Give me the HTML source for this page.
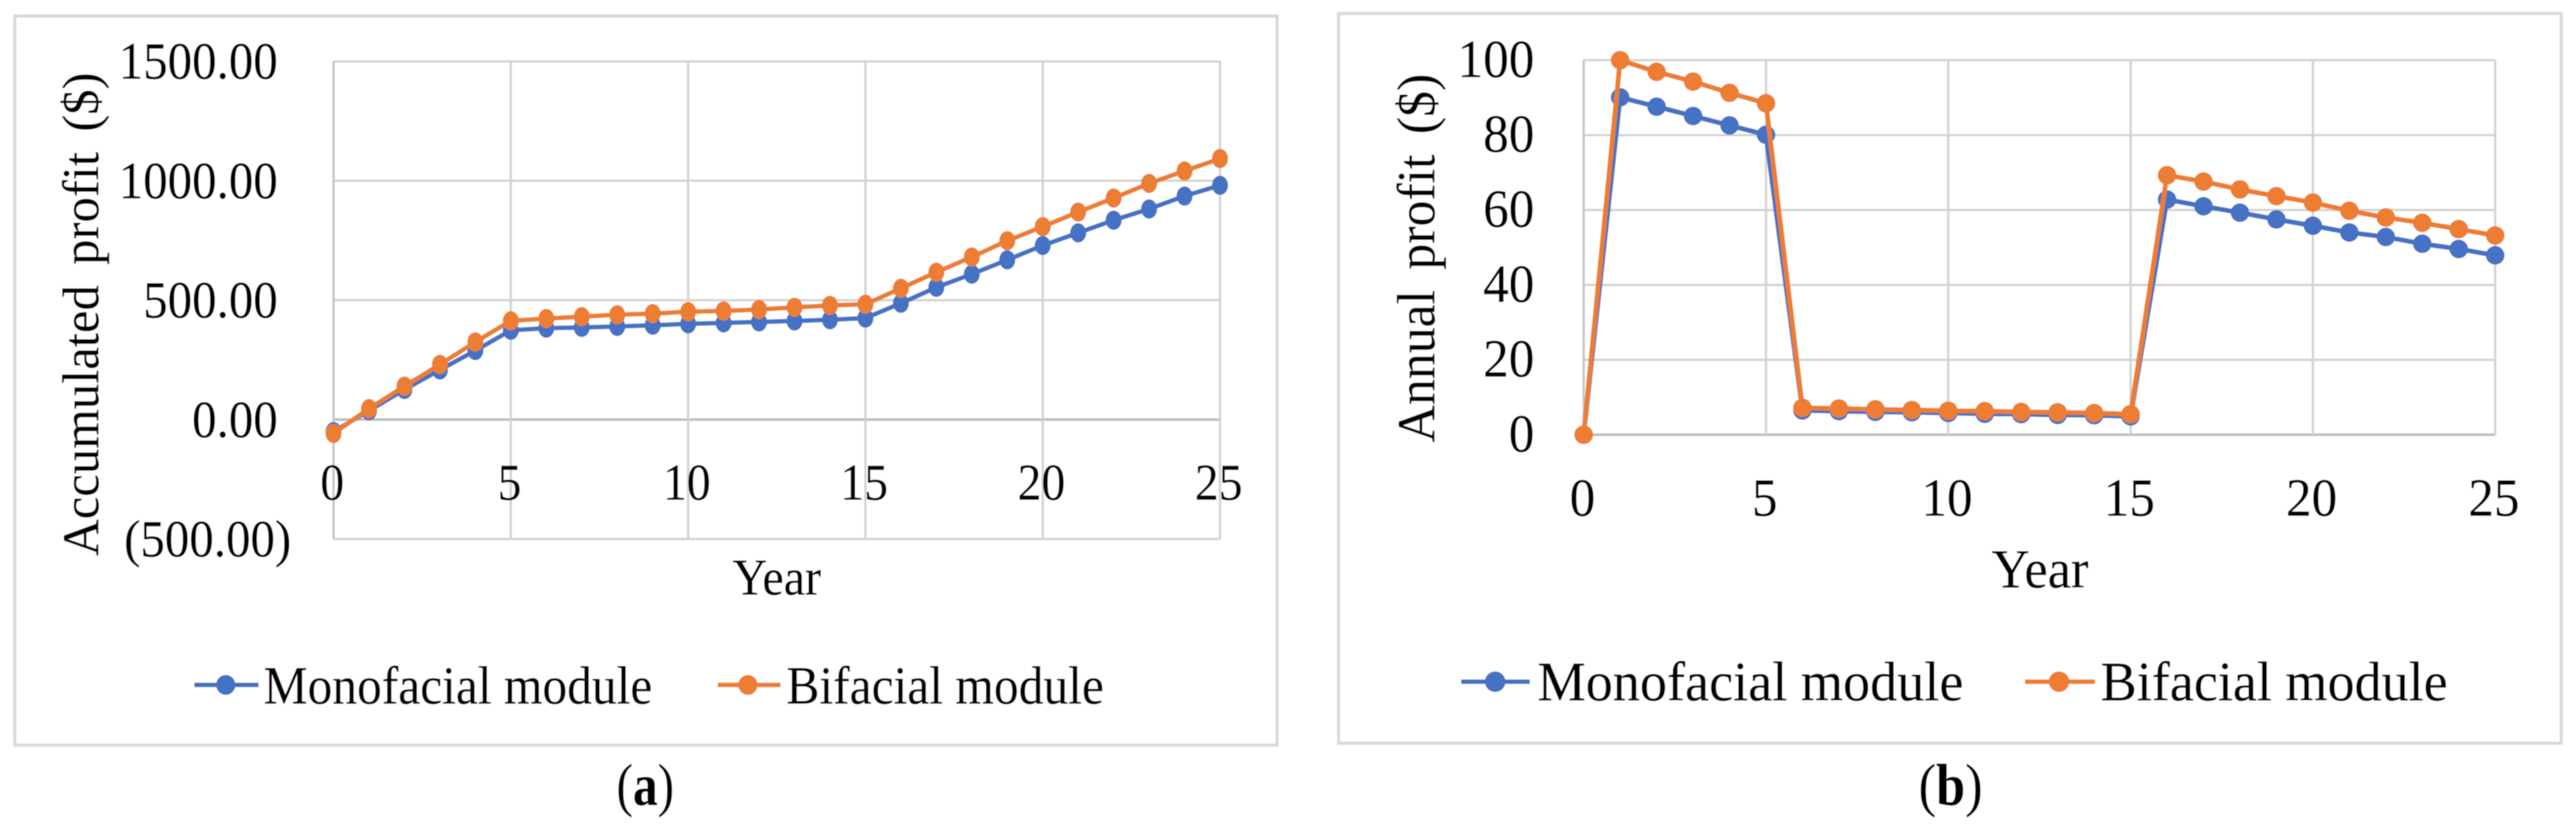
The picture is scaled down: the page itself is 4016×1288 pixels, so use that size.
<!DOCTYPE html>
<html lang="en">
<head>
<meta charset="utf-8">
<title>Accumulated and annual profit charts</title>
<style>
html,body{margin:0;padding:0;background:#fff;width:4016px;height:1288px;overflow:hidden}
svg{display:block}
text{font-family:"Liberation Serif","Times New Roman",serif;fill:#000;stroke:#000;stroke-width:0.5px}
</style>
</head>
<body>
<svg id="fig" xmlns="http://www.w3.org/2000/svg" width="4016" height="1288" viewBox="0 0 4016 1288">
  <defs>
    <filter id="soften" x="0" y="0" width="100%" height="100%" filterUnits="objectBoundingBox">
      <feGaussianBlur stdDeviation="0.9"/>
    </filter>
  </defs>
  <rect x="0" y="0" width="4016" height="1288" fill="#fff"/>
  <g filter="url(#soften)">
  <rect x="0" y="0" width="4016" height="1288" fill="#fff"/>
  <rect x="23" y="25" width="1968" height="1137" fill="#fff" stroke="#d9d9d9" stroke-width="5"/>
  <rect x="2087" y="21" width="1906" height="1138" fill="#fff" stroke="#d9d9d9" stroke-width="5"/>
  <g id="chart-a"></g>
  <g id="chart-b"></g>

  <g>
    <g>
      <line x1="303" x2="403" y1="1068" y2="1068" stroke="#4472C4" stroke-width="7"/>
      <ellipse cx="352" cy="1068" rx="15" ry="15.5" fill="#4472C4"/>
      <text x="411" y="1097" font-size="84" textLength="606" lengthAdjust="spacingAndGlyphs">Monofacial module</text>
    </g>
    <g>
      <line x1="1119" x2="1217" y1="1068" y2="1068" stroke="#ED7D31" stroke-width="7"/>
      <ellipse cx="1166" cy="1068" rx="15" ry="15.5" fill="#ED7D31"/>
      <text x="1226" y="1097" font-size="84" textLength="495" lengthAdjust="spacingAndGlyphs">Bifacial module</text>
    </g>
  </g>

  <g>
    <g>
      <line x1="2278" x2="2385" y1="1063" y2="1063" stroke="#4472C4" stroke-width="7"/>
      <ellipse cx="2331" cy="1063" rx="16" ry="16" fill="#4472C4"/>
      <text x="2397" y="1092" font-size="87" textLength="664" lengthAdjust="spacingAndGlyphs">Monofacial module</text>
    </g>
    <g>
      <line x1="3157" x2="3266" y1="1063" y2="1063" stroke="#ED7D31" stroke-width="7"/>
      <ellipse cx="3210" cy="1063" rx="16" ry="16" fill="#ED7D31"/>
      <text x="3275" y="1092" font-size="87" textLength="541" lengthAdjust="spacingAndGlyphs">Bifacial module</text>
    </g>
  </g>

  <text x="961" y="1255" font-size="92" textLength="90" lengthAdjust="spacingAndGlyphs">(<tspan font-weight="bold">a</tspan>)</text>
  <text x="2991" y="1255" font-size="92" textLength="100" lengthAdjust="spacingAndGlyphs">(<tspan font-weight="bold">b</tspan>)</text>
  </g>
</svg>

<script>
const years = [0,1,2,3,4,5,6,7,8,9,10,11,12,13,14,15,16,17,18,19,20,21,22,23,24,25];
const xTickValues = [0,5,10,15,20,25];

const accumMonofacial = [-50,37,126,208,289,374,383,386,390,395,401,405,409,413,418,425,487,554,609,669,729,782,835,882,936,981];
const accumBifacial = [-58,46,140,231,325,414,423,431,439,444,452,455,461,470,478,483,550,617,681,749,808,869,928,989,1041,1093];
const accumTickValues = [-500,0,500,1000,1500];
const accumTickLabels = ["(500.00)","0.00","500.00","1000.00","1500.00"];

const annualMonofacial = [0,90.1,87.6,85.1,82.6,80.1,6.5,6.3,6.1,6.0,5.8,5.6,5.5,5.3,5.2,4.9,62.8,61,59.3,57.5,55.8,54,52.8,51,49.6,47.9];
const annualBifacial = [0,100,96.9,94.3,91.3,88.5,7.2,7.0,6.8,6.6,6.4,6.3,6.1,6.0,5.8,5.5,69.3,67.6,65.5,63.7,62,59.8,58,56.6,54.9,53.2];
const annualTickValues = [0,20,40,60,80,100];
const annualTickLabels = ["0","20","40","60","80","100"];

const SVG_NS = "http://www.w3.org/2000/svg";

function make(parent, tag, name, attrs, content) {
  const el = document.createElementNS(SVG_NS, tag);
  
  
  for (const k in attrs) el.setAttribute(k, attrs[k]);
  if (content !== undefined) el.textContent = content;
  parent.appendChild(el);
  return el;
}

function drawChart(c) {
  const root = document.getElementById(c.id);
  const xScale = v => c.x0 + (v - c.xMin) * (c.x1 - c.x0) / (c.xMax - c.xMin);
  const yScale = v => c.yZero - v * c.yPerUnit;
  const top = yScale(c.yTicks[c.yTicks.length - 1]);
  const bottom = yScale(c.yTicks[0]);

  const grid = make(root, 'g', 'gridlines', {});
  c.yTicks.forEach(t => {
    const isZero = t === 0;
    make(grid, 'line', 'horizontal-gridline-' + t, {
      x1: c.x0, x2: c.x1, y1: yScale(t), y2: yScale(t),
      stroke: isZero ? '#bdbdbd' : '#d2d2d2', 'stroke-width': isZero ? 4 : 3.5
    });
  });
  c.xTicks.forEach(t => {
    make(grid, 'line', 'vertical-gridline-' + t, {
      x1: xScale(t), x2: xScale(t), y1: top, y2: bottom,
      stroke: t === 0 ? '#c4c4c4' : '#d2d2d2', 'stroke-width': 3.5
    });
  });

  const yAxis = make(root, 'g', 'y-axis-labels', {});
  c.yTicks.forEach((t, i) => {
    const label = c.yLabels[i];
    const hang = label.charAt(0) === '(' ? c.parenHang : 0;
    make(yAxis, 'text', 'y-tick-label', {
      transform: 'translate(' + (c.yLabelX + hang) + ',' + (yScale(t) + c.yLabelDy) + ') scale(' + c.tickScaleX + ',1)',
      x: 0, y: 0, 'text-anchor': 'end', 'font-size': c.tickFont
    }, label);
  });

  const xAxis = make(root, 'g', 'x-axis-labels', {});
  c.xTicks.forEach(t => {
    make(xAxis, 'text', 'x-tick-label', {
      transform: 'translate(' + (xScale(t) - 2) + ',' + c.xLabelY + ') scale(' + c.tickScaleX + ',1)',
      x: 0, y: 0, 'text-anchor': 'middle', 'font-size': c.xTickFont
    }, String(t));
  });

  make(root, 'text', 'x-axis-title', {
    x: c.xTitleX, y: c.xTitleY, 'font-size': c.xTitleFont,
    textLength: c.xTitleLen, lengthAdjust: 'spacingAndGlyphs'
  }, 'Year');

  make(root, 'text', 'y-axis-title', {
    transform: 'translate(' + c.yTitleX + ',' + c.yTitleBottom + ') rotate(-90)',
    x: 0, y: 0, 'font-size': c.yTitleFont, 'word-spacing': 12,
    textLength: c.yTitleLen, lengthAdjust: 'spacingAndGlyphs'
  }, c.yTitle);

  c.series.forEach(s => {
    const g = make(root, 'g', 'series-' + s.name, {});
    const pts = c.categories.map((yr, i) => xScale(yr).toFixed(1) + ',' + yScale(s.values[i]).toFixed(1)).join(' ');
    make(g, 'polyline', 'line-' + s.name, {
      points: pts, fill: 'none', stroke: s.color,
      'stroke-width': c.lineWidth, 'stroke-linejoin': 'round'
    });
    c.categories.forEach((yr, i) => {
      make(g, 'ellipse', 'point-' + s.name + '-year-' + yr, {
        cx: xScale(yr), cy: yScale(s.values[i]), rx: c.rx, ry: c.ry, fill: s.color
      });
    });
  });
}

drawChart({
  id: 'chart-a', categories: years, xTicks: xTickValues, yTicks: accumTickValues, yLabels: accumTickLabels,
  xMin: 0, xMax: 25, x0: 520, x1: 1902, yZero: 654.3, yPerUnit: 0.3724,
  yLabelX: 433, yLabelDy: 27, parenHang: 21, tickFont: 82, tickScaleX: 0.93, xTickFont: 80, xLabelY: 779,
  xTitleX: 1142, xTitleY: 927, xTitleFont: 80, xTitleLen: 138,
  yTitle: 'Accumulated profit ($)', yTitleX: 153, yTitleBottom: 867, yTitleFont: 81, yTitleLen: 754,
  lineWidth: 7, rx: 12.5, ry: 15,
  series: [
    {name: 'monofacial', color: '#4472C4', values: accumMonofacial},
    {name: 'bifacial', color: '#ED7D31', values: accumBifacial}
  ]
});

drawChart({
  id: 'chart-b', categories: years, xTicks: xTickValues, yTicks: annualTickValues, yLabels: annualTickLabels,
  xMin: 0, xMax: 25, x0: 2469, x1: 3890, yZero: 677.9, yPerUnit: 5.84,
  yLabelX: 2392, yLabelDy: 26, parenHang: 0, tickFont: 84, tickScaleX: 0.95, xTickFont: 84, xLabelY: 804,
  xTitleX: 3105, xTitleY: 916, xTitleFont: 86, xTitleLen: 151,
  yTitle: 'Annual profit ($)', yTitleX: 2236, yTitleBottom: 690, yTitleFont: 84, yTitleLen: 575,
  lineWidth: 7.5, rx: 14.5, ry: 14.5,
  series: [
    {name: 'monofacial', color: '#4472C4', values: annualMonofacial},
    {name: 'bifacial', color: '#ED7D31', values: annualBifacial}
  ]
});
</script>
</body>
</html>
